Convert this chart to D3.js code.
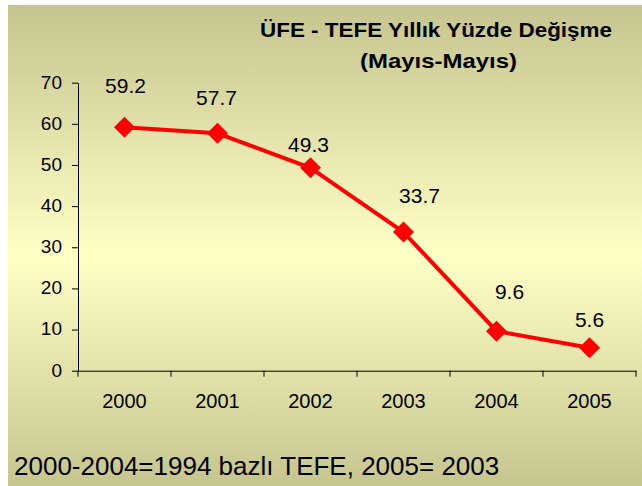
<!DOCTYPE html>
<html><head><meta charset="utf-8">
<script src="https://cdnjs.cloudflare.com/ajax/libs/d3/7.8.5/d3.min.js"></script>
<style>html,body{margin:0;padding:0;background:#fff;}svg{display:block;}</style>
</head><body>
<script>
const years = ["2000","2001","2002","2003","2004","2005"];
const values = [59.2, 57.7, 49.3, 33.7, 9.6, 5.6];
const yTicks = [0,10,20,30,40,50,60,70];
const titleLines = ["ÜFE - TEFE Yıllık Yüzde Değişme", "(Mayıs-Mayıs)"];
const footnote = "2000-2004=1994 bazlı TEFE, 2005= 2003";

(function(){
const W = 642, H = 486;
const svg = d3.select("body").append("svg").attr("width", W).attr("height", H);
const defs = svg.append("defs");
const grad = defs.append("linearGradient").attr("id","bg").attr("x1",0).attr("y1",0).attr("x2",0).attr("y2",1);
grad.append("stop").attr("offset","0%").attr("stop-color","#c6c48f");
grad.append("stop").attr("offset","52%").attr("stop-color","#ffffc6");
grad.append("stop").attr("offset","100%").attr("stop-color","#c6c58f");
svg.append("rect").attr("x",8).attr("y",5).attr("width",W-8).attr("height",H-5).attr("fill","url(#bg)");

const mLeft = 78, mRight = 636, mTop = 82.7, mBottom = 370.7;
const x = d3.scaleBand().domain(years).range([mLeft, mRight]);
const y = d3.scaleLinear().domain([0,70]).range([mBottom, mTop]);

const font = "'Liberation Sans', Arial, sans-serif";

const yAxis = svg.append("g").attr("transform",`translate(${mLeft},0)`)
  .call(d3.axisLeft(y).tickValues(yTicks).tickSize(6).tickSizeOuter(0).tickFormat(d3.format("d")));
yAxis.select(".domain").attr("stroke","#000");
yAxis.selectAll(".tick line").attr("stroke","#000");
yAxis.selectAll(".tick text").attr("font-family",font).attr("font-size",19).attr("fill","#000")
  .attr("x",-16).attr("dy","0.28em");

const xAxis = svg.append("g").attr("transform",`translate(0,${mBottom})`)
  .call(d3.axisBottom(x).tickSize(0).tickSizeOuter(0));
xAxis.select(".domain").attr("stroke","#000");
xAxis.selectAll(".tick text").attr("font-family",font).attr("font-size",20).attr("fill","#000")
  .attr("y",37.6).attr("dy",0);
const bounds = years.map(d => x(d)).concat([x(years[years.length-1]) + x.bandwidth()]);
svg.append("g").selectAll("line").data(bounds).join("line")
  .attr("x1",d=>d).attr("x2",d=>d).attr("y1",mBottom).attr("y2",mBottom+6).attr("stroke","#000");

const cx = d => x(d) + x.bandwidth()/2;
const pts = years.map((d,i) => ({year:d, v:values[i]}));

svg.append("path").datum(pts)
  .attr("d", d3.line().x(d=>cx(d.year)).y(d=>y(d.v)))
  .attr("fill","none").attr("stroke","#ff0000").attr("stroke-width",4).attr("stroke-linejoin","round");

svg.append("g").selectAll("path").data(pts).join("path")
  .attr("transform", d=>`translate(${cx(d.year)},${y(d.v)})`)
  .attr("d","M0,-10.5L10.5,0L0,10.5L-10.5,0Z").attr("fill","#ff0000");

const labelDx = [1, -1, -2, 16, 13, 0];
const labelDy = [-34, -28, -16, -29, -32, -21];
svg.append("g").selectAll("text").data(pts).join("text")
  .attr("x",(d,i)=>cx(d.year)+labelDx[i]).attr("y",(d,i)=>y(d.v)+labelDy[i])
  .attr("text-anchor","middle").attr("font-family",font).attr("font-size",21).attr("fill","#000")
  .text(d=>d3.format(".1f")(d.v));

const titleX = [436, 438.5], titleY = [37, 67.5], titleW = [352, 157];
svg.append("g").selectAll("text").data(titleLines).join("text")
  .attr("x",(d,i)=>titleX[i]).attr("y",(d,i)=>titleY[i])
  .attr("text-anchor","middle").attr("font-family",font).attr("font-weight","bold")
  .attr("font-size",20.5).attr("fill","#000")
  .attr("textLength",(d,i)=>titleW[i]).attr("lengthAdjust","spacingAndGlyphs")
  .text(d=>d);

svg.append("text").attr("x",14).attr("y",475).attr("font-family",font).attr("font-size",26)
  .attr("fill","#000").text(footnote);
})();
</script>
</body></html>
